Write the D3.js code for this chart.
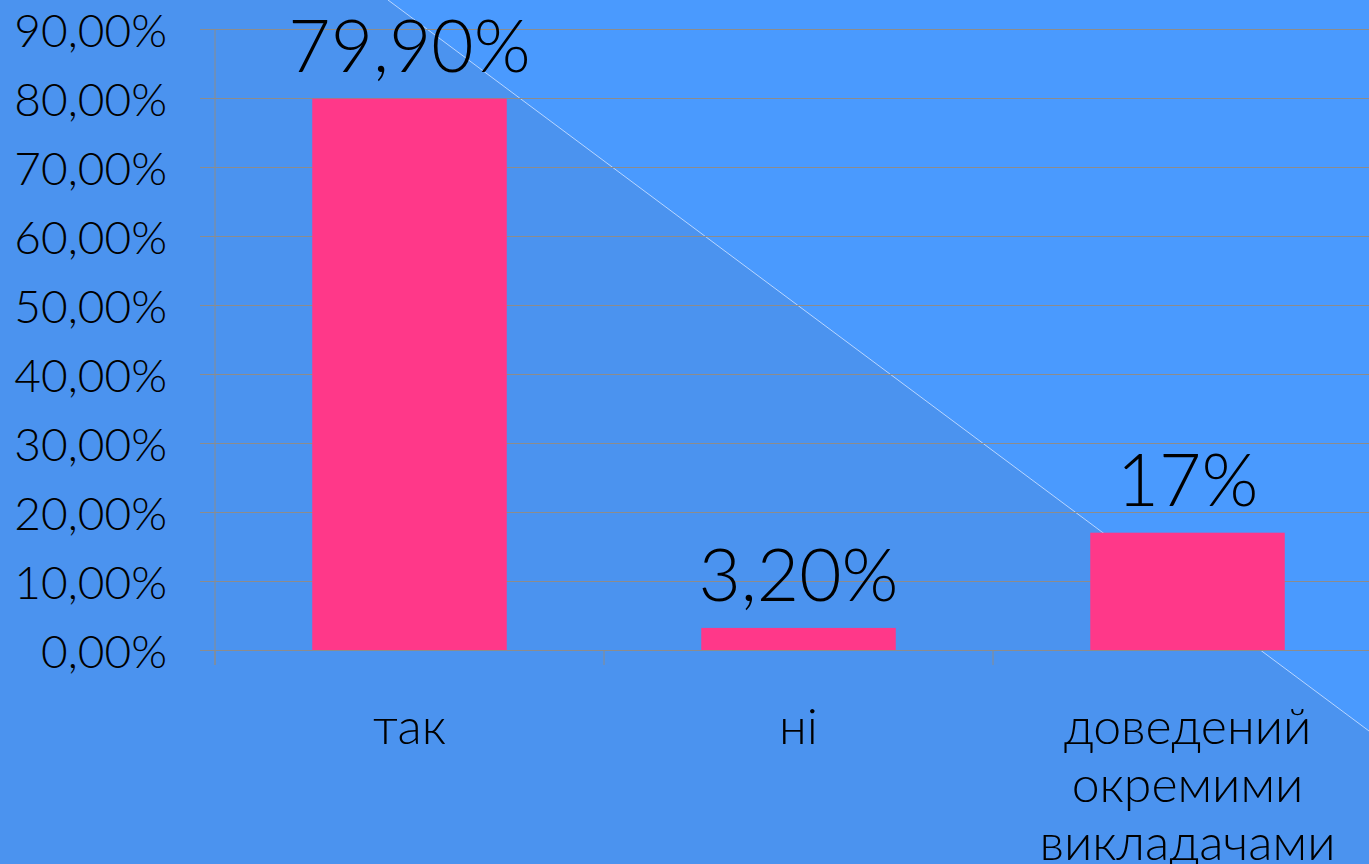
<!DOCTYPE html>
<html>
<head>
<meta charset="utf-8">
<script src="https://cdn.jsdelivr.net/npm/d3@7"></script>
<style>
  html, body { margin: 0; padding: 0; overflow: hidden; background: #4b93ef; }
  text { font-family: "Lato", "Liberation Sans", sans-serif; font-weight: 300; }
</style>
</head>
<body>
<div id="chart"></div>
<script>
// categories and values
const categories = ["так", "ні", "доведений окремими викладачами"];
const values = [79.9, 3.2, 17];
const valueLabels = ["79,90%", "3,20%", "17%"];
const yTicks = [0, 10, 20, 30, 40, 50, 60, 70, 80, 90];

const width = 1369, height = 864;
const margin = { top: 29, right: -13, bottom: 214, left: 215 };

const svg = d3.select("#chart")
    .append("svg")
    .attr("width", width)
    .attr("height", height);

// background: two tones split by a thin diagonal line
const lineStart = [388, 0], lineEnd = [width, 731];
svg.append("rect")
    .attr("width", width)
    .attr("height", height)
    .attr("fill", "#4b93ef");
svg.append("polygon")
    .attr("points", [lineStart, [width, 0], lineEnd].map(p => p.join(",")).join(" "))
    .attr("fill", "#4a9afe");
svg.append("line")
    .attr("x1", lineStart[0]).attr("y1", lineStart[1])
    .attr("x2", lineEnd[0]).attr("y2", lineEnd[1])
    .attr("stroke", "#b9d6ff")
    .attr("stroke-width", 1);

const innerWidth = width - margin.left - margin.right;
const innerHeight = height - margin.top - margin.bottom;

const g = svg.append("g")
    .attr("transform", `translate(${margin.left},${margin.top})`);

// Scales
const x = d3.scaleBand().domain(categories).range([0, innerWidth]).paddingInner(0.5).paddingOuter(0.25);
const y = d3.scaleLinear().domain([0, 90]).range([innerHeight, 0]);

// gridlines (drawn as the y axis ticks, stretched across)
const yAxis = d3.axisLeft(y)
    .tickValues(yTicks)
    .tickSize(-innerWidth - 15)
    .tickPadding(33)
    .tickFormat(d => d3.format(".2f")(d).replace(".", ",") + "%");

const yg = g.append("g")
    .attr("transform", "translate(-15,0)")
    .call(yAxis);
yg.select(".domain").remove();
yg.selectAll(".tick line").attr("stroke", "#8c8c8c").attr("stroke-width", 1);
yg.selectAll(".tick text")
    .attr("fill", "#000")
    .style("font-size", "46px")
    .attr("dy", "0.38em");

// vertical axis line
g.append("line")
    .attr("x1", 0).attr("x2", 0)
    .attr("y1", 0).attr("y2", innerHeight + 15)
    .attr("stroke", "#8c8c8c");

// category boundary ticks
const step = x.step();
const boundaries = d3.range(categories.length + 1).map(i => x(categories[0]) - step * 0.25 + i * step);
g.selectAll(".bound")
    .data(boundaries)
    .join("line")
    .attr("x1", d => d).attr("x2", d => d)
    .attr("y1", innerHeight).attr("y2", innerHeight + 15)
    .attr("stroke", "#8c8c8c");

// bars
g.selectAll(".bar")
    .data(values)
    .join("rect")
    .attr("x", (d, i) => x(categories[i]))
    .attr("y", d => y(d))
    .attr("width", x.bandwidth())
    .attr("height", d => innerHeight - y(d))
    .attr("fill", "#ff3889");

// value labels
g.selectAll(".val")
    .data(values)
    .join("text")
    .attr("x", (d, i) => x(categories[i]) + x.bandwidth() / 2)
    .attr("y", d => y(d) - 27)
    .attr("text-anchor", "middle")
    .style("font-size", "73px")
    .attr("fill", "#000")
    .text((d, i) => valueLabels[i]);

// category labels, wrapped by word
const catLabels = g.selectAll(".cat")
    .data(categories)
    .join("text")
    .attr("text-anchor", "middle")
    .style("font-size", "50px")
    .attr("fill", "#000")
    .attr("transform", d => `translate(${x(d) + x.bandwidth() / 2},${innerHeight + 94})`);

catLabels.selectAll("tspan")
    .data(d => d.split(" "))
    .join("tspan")
    .attr("x", 0)
    .attr("y", (d, i) => i * 58)
    .text(d => d);
</script>
</body>
</html>
